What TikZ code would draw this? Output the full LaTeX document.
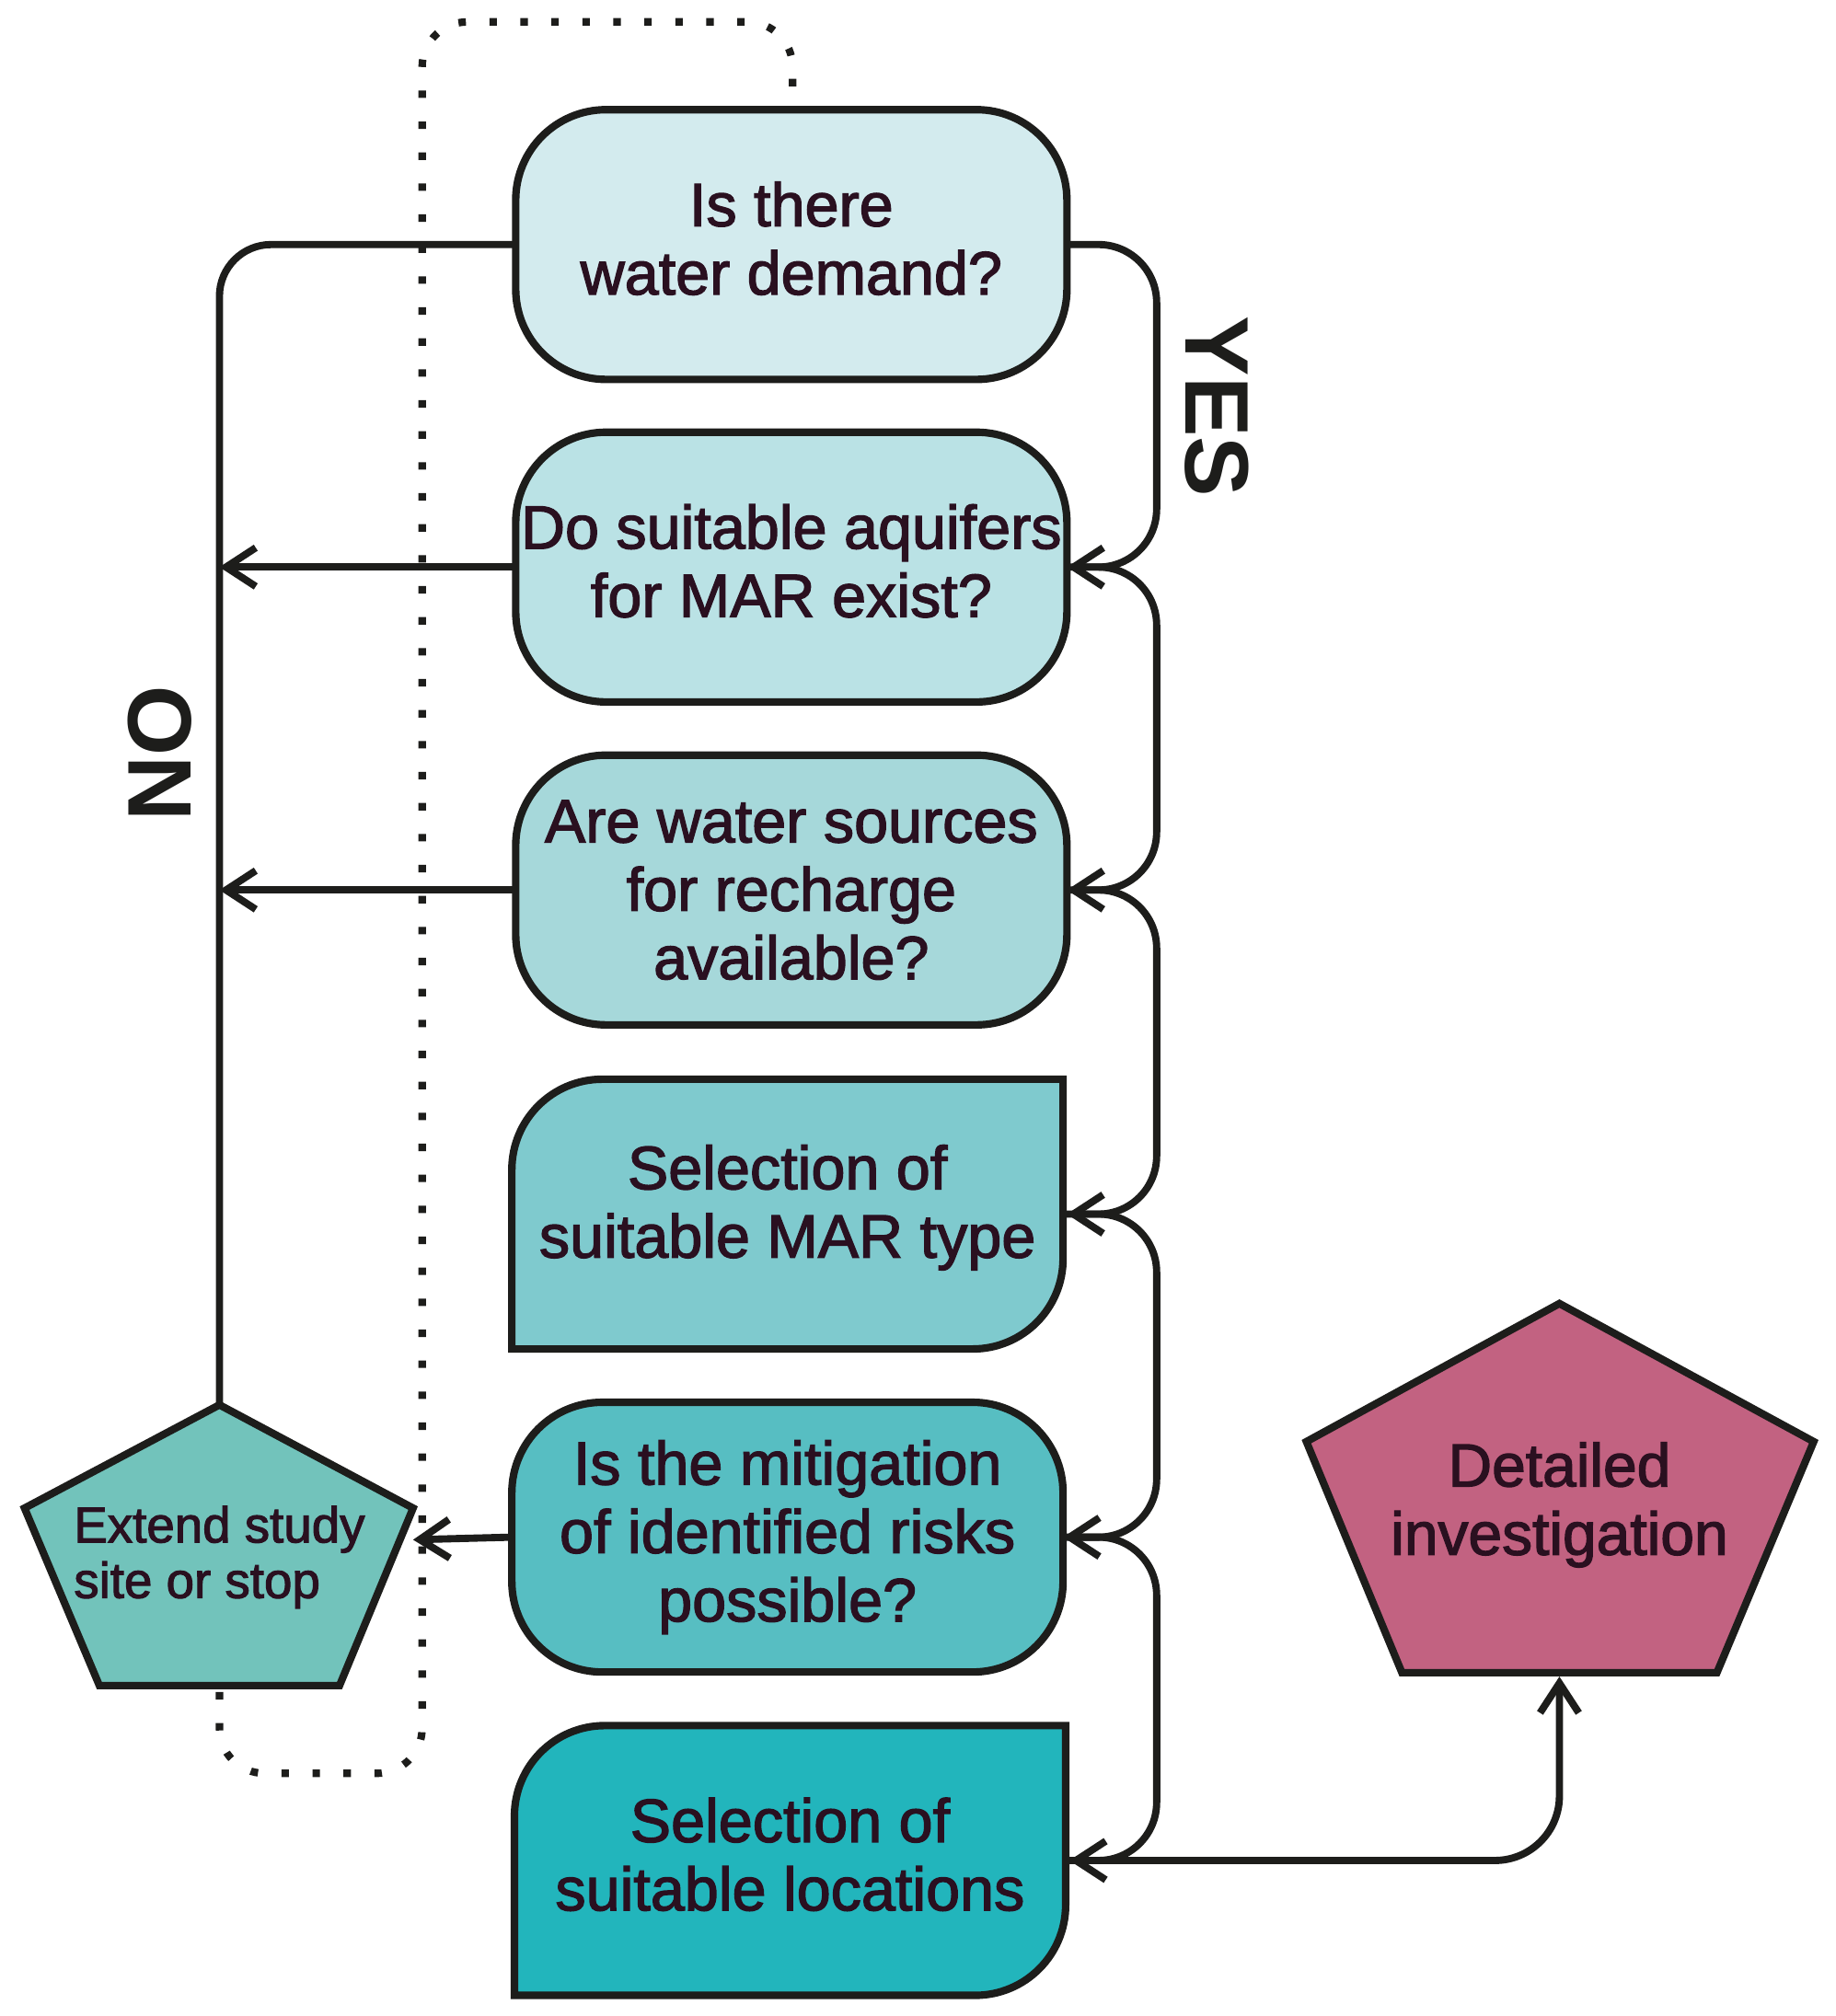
\documentclass[tikz,border=0pt]{standalone}
\usepackage{fontspec}
\setmainfont{Liberation Sans}
\newfontfamily\boxfont{Liberation Sans}[FakeBold=2]
\usetikzlibrary{arrows.meta}
\pgfdeclarelayer{background}
\pgfsetlayers{background,main}
\definecolor{cA}{HTML}{D3EBEE}
\definecolor{cB}{HTML}{BAE2E5}
\definecolor{cC}{HTML}{A6D8DA}
\definecolor{cD}{HTML}{7FCACE}
\definecolor{cE}{HTML}{57BEC2}
\definecolor{cF}{HTML}{22B5BC}
\definecolor{cExt}{HTML}{72C3BB}
\definecolor{cDet}{HTML}{C26281}
\definecolor{edge}{HTML}{1D1D1B}
\definecolor{txt}{HTML}{2A1020}
\newcommand{\liftend}{\\[-43pt]\mbox{}}
\newcommand{\liftendd}{\\[-33pt]\mbox{}}
\begin{document}
\begin{tikzpicture}[x=1pt,y=1pt,
  box/.style={minimum width=427pt, minimum height=209pt, inner sep=0pt, outer sep=0pt,
    align=center, text=txt, font=\boxfont\fontsize{47.4}{53}\selectfont},
  rbox/.style={box, draw=edge, line width=5.8pt, rounded corners=70pt},
  shapeline/.style={draw=edge, line width=5.8pt, line join=miter},
  conn/.style={draw=edge, line width=5.6pt, rounded corners=45pt},
  arr/.style={-{Straight Barb[length=23pt,width=30pt]}},
  dotline/.style={draw=edge, line width=5.8pt, dash pattern=on 5.8pt off 18.2pt, rounded corners=35pt},
  lbl/.style={text=edge, font=\bfseries\fontsize{70}{70}\selectfont, inner sep=0pt}
]
\useasboundingbox (0,0) rectangle (1422,1562);
\coordinate (rail) at (896,0);

% boxes
\node[rbox, fill=cA] (b1) at (613,1372.5) {Is there\\water demand?\liftend};
\node[rbox, fill=cB] (b2) at (613,1122.6) {Do suitable aquifers\\for MAR exist?\liftend};
\node[rbox, fill=cC] (b3) at (613,872.4) {Are water sources\\for recharge\\available?};
\node[box] (b4) at (610,621.3) {Selection of\\suitable MAR type\liftendd};
\node[rbox, fill=cE] (b5) at (610,371) {Is the mitigation\\of identified risks\\possible?};
\node[box] (b6) at (612,120.5) {Selection of\\suitable locations\liftend};

\begin{pgfonlayer}{background}
\draw[shapeline, fill=cD] (b4.south west) -- ([yshift=-70pt]b4.north west)
  arc[start angle=180, end angle=90, radius=70pt] -- (b4.north east)
  -- ([yshift=70pt]b4.south east) arc[start angle=0, end angle=-90, radius=70pt] -- cycle;
\draw[shapeline, fill=cF] (b6.south west) -- ([yshift=-70pt]b6.north west)
  arc[start angle=180, end angle=90, radius=70pt] -- (b6.north east)
  -- ([yshift=70pt]b6.south east) arc[start angle=0, end angle=-90, radius=70pt] -- cycle;
\end{pgfonlayer}

% left pentagon
\coordinate (extApex) at (170,473.5);
\coordinate (extUR) at (320,393.5);
\coordinate (extLR) at (263,256);
\coordinate (extLL) at (77,256);
\coordinate (extUL) at (19,393.5);
\coordinate (extB) at (170,251);
\coordinate (extR) at (320,369);
\draw[shapeline, fill=cExt] (extApex) -- (extUR) -- (extLR) -- (extLL) -- (extUL) -- cycle;
\node[align=left, text=txt, inner sep=0pt, font=\boxfont\fontsize{39}{43}\selectfont] (ext) at (170,355.5) {Extend study\\site or stop};

% right pentagon
\coordinate (detApex) at (1208,552);
\coordinate (detUR) at (1405,445);
\coordinate (detLR) at (1330,266);
\coordinate (detLL) at (1086,266);
\coordinate (detUL) at (1012,445);
\coordinate (detB) at (1208,263);
\draw[shapeline, fill=cDet] (detApex) -- (detUR) -- (detLR) -- (detLL) -- (detUL) -- cycle;
\node[align=center, text=txt, inner sep=0pt, font=\boxfont\fontsize{47}{53}\selectfont] (det) at (1208,396) {Detailed\\investigation};

% NO connectors
\draw[conn, rounded corners=40pt] (b1.west) -| (extApex);
\draw[conn, arr] (b2.west) -- (b2.west -| extApex);
\draw[conn, arr] (b3.west) -- (b3.west -| extApex);
\draw[conn, arr] (b5.west) -- (extR);

% YES chain
\draw[conn, arr] (b1.east) -- (b1.east -| rail) -- (b2.east -| rail) -- (b2.east);
\draw[conn, arr] (b2.east) -- (b2.east -| rail) -- (b3.east -| rail) -- (b3.east);
\draw[conn, arr] (b3.east) -- (b3.east -| rail) -- (b4.east -| rail) -- ([xshift=2.9pt]b4.east);
\draw[conn, arr] ([xshift=2.9pt]b4.east) -- (b4.east -| rail) -- (b5.east -| rail) -- (b5.east);
\draw[conn, arr] (b5.east) -- (b5.east -| rail) -- (b6.east -| rail) -- ([xshift=2.9pt]b6.east);
\draw[conn, arr, rounded corners=50pt] ([xshift=2.9pt]b6.east) -| (detB);

% dotted loop
\coordinate (loopEnd) at (614,1490);
\draw[dotline] (extB) -- (170,188) -- (327,188) -- (327,1545) -- (614,1545) -- (loopEnd);

% labels
\node[lbl, rotate=-90] (yes) at (943,1247) {YES};
\node[lbl, rotate=90] (no) at (124,978) {NO};
\end{tikzpicture}
\end{document}
